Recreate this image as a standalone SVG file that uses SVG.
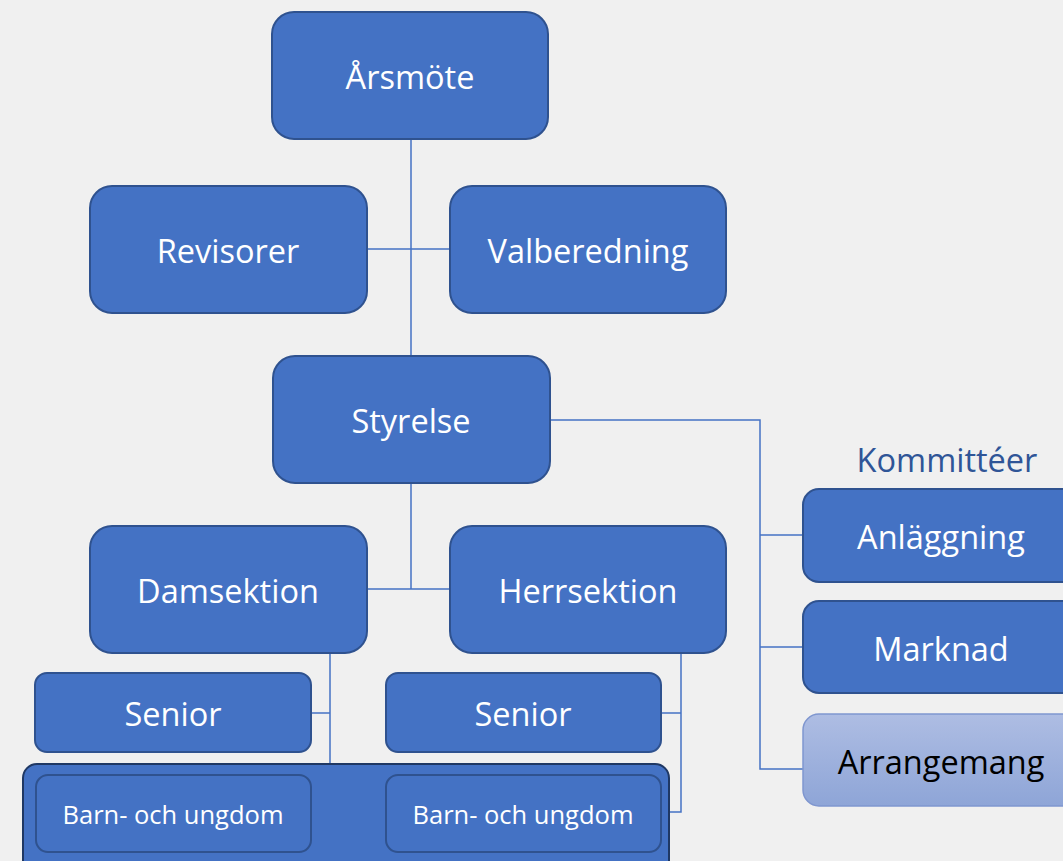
<svg xmlns="http://www.w3.org/2000/svg" width="1063" height="861" viewBox="0 0 1063 861">
<style>
.box{fill:#4472C4;stroke:#2F528F;stroke-width:2}
.inner{fill:#4472C4;stroke:#2F528F;stroke-width:2}
.t{font-family:"Open Sans","Noto Sans",sans-serif;fill:#FFFFFF;text-anchor:middle;dominant-baseline:central}
.big{font-size:32.5px}
.sm{font-size:25.5px}
.conn{fill:none;stroke:#4472C4;stroke-width:1.5}
</style>
<defs>
<linearGradient id="arr" x1="0" y1="0" x2="0" y2="1">
<stop offset="0" stop-color="#AEBDE3"/>
<stop offset="1" stop-color="#8EA5D7"/>
</linearGradient>
</defs>
<rect x="0" y="0" width="1063" height="861" fill="#F0F0F0"/>
<g id="connectors">
<path class="conn" d="M411 139 V356 M367 249 H450 M411 483 V589 M367 589 H450 M550 420 H760 V769 H803 M760 535 H803 M760 647 H803 M330 653 V768 M311 713 H330 M681 653 V812 H669 M661 713 H681"/>
</g>
<g id="arsmote">
<rect class="box" x="272" y="12" width="276" height="127" rx="22"/>
<text class="t big" x="410" y="76">Årsmöte</text>
</g>
<g id="revisorer">
<rect class="box" x="90" y="186" width="277" height="127" rx="22"/>
<text class="t big" x="228" y="250">Revisorer</text>
</g>
<g id="valberedning">
<rect class="box" x="450" y="186" width="276" height="127" rx="22"/>
<text class="t big" x="588" y="250">Valberedning</text>
</g>
<g id="styrelse">
<rect class="box" x="273" y="356" width="277" height="127" rx="22"/>
<text class="t big" x="411" y="420">Styrelse</text>
</g>
<g id="damsektion">
<rect class="box" x="90" y="526" width="277" height="127" rx="22"/>
<text class="t big" x="228" y="590">Damsektion</text>
</g>
<g id="herrsektion">
<rect class="box" x="450" y="526" width="276" height="127" rx="22"/>
<text class="t big" x="588" y="590">Herrsektion</text>
</g>
<g id="senior-dam">
<rect class="box" x="35" y="673" width="276" height="79" rx="12"/>
<text class="t big" x="173" y="713">Senior</text>
</g>
<g id="senior-herr">
<rect class="box" x="386" y="673" width="275" height="79" rx="12"/>
<text class="t big" x="523" y="713">Senior</text>
</g>
<g id="barn-container">
<rect x="23" y="764" width="646" height="110" rx="14" fill="#4472C4" stroke="#1F3864" stroke-width="2"/>
</g>
<g id="barn-dam">
<rect class="inner" x="36" y="775" width="275" height="77" rx="12"/>
<text class="t sm" x="173" y="814">Barn- och ungdom</text>
</g>
<g id="barn-herr">
<rect class="inner" x="386" y="775" width="275" height="77" rx="12"/>
<text class="t sm" x="523" y="814">Barn- och ungdom</text>
</g>
<text x="947" y="459" font-family="'Open Sans','Noto Sans',sans-serif" font-size="32.5" fill="#2F5597" text-anchor="middle" dominant-baseline="central">Kommittéer</text>
<g id="anlaggning">
<rect class="box" x="803" y="489" width="280" height="93" rx="16"/>
<text class="t big" x="941" y="536">Anläggning</text>
</g>
<g id="marknad">
<rect class="box" x="803" y="601" width="280" height="92" rx="16"/>
<text class="t big" x="941" y="648">Marknad</text>
</g>
<g id="arrangemang">
<rect x="803" y="714" width="280" height="92" rx="16" fill="url(#arr)" stroke="#7F96CF" stroke-width="1.5"/>
<text class="t big" x="941" y="761" style="fill:#000">Arrangemang</text>
</g>
</svg>
